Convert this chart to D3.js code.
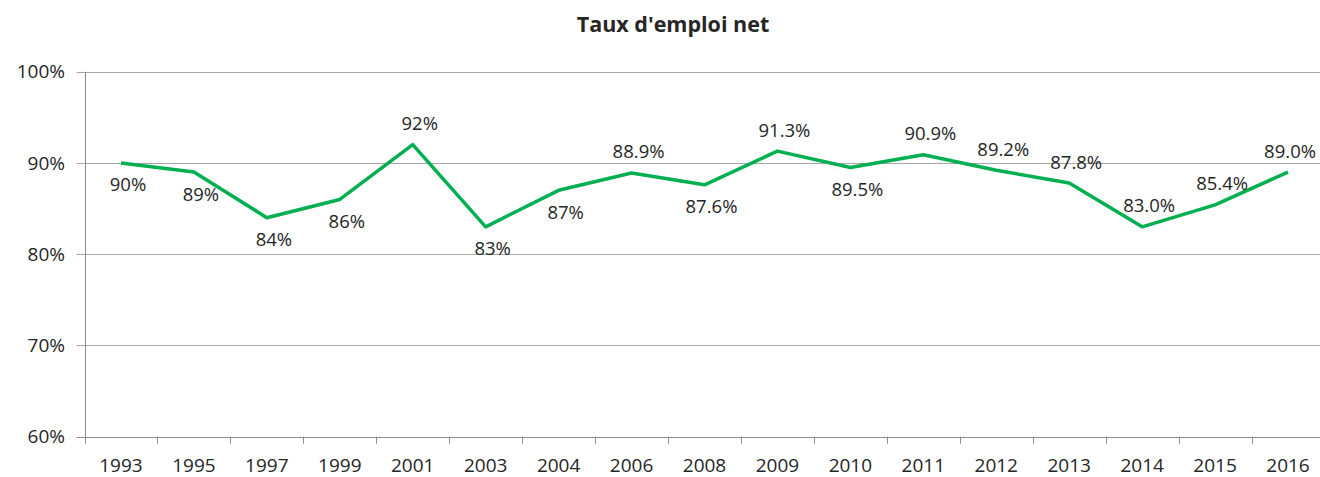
<!DOCTYPE html>
<html>
<head>
<meta charset="utf-8">
<script src="https://cdn.jsdelivr.net/npm/d3@7"></script>
<style>
  body { margin: 0; background: #fff; }
  text { font-family: "Open Sans", sans-serif; fill: #262626; }
</style>
</head>
<body>
<svg width="1320" height="477"></svg>
<script>
var years = ["1993", "1995", "1997", "1999", "2001", "2003", "2004", "2006", "2008",
             "2009", "2010", "2011", "2012", "2013", "2014", "2015", "2016"];
var rates = [0.90, 0.89, 0.84, 0.86, 0.92, 0.83, 0.87, 0.889, 0.876,
             0.913, 0.895, 0.909, 0.892, 0.878, 0.830, 0.854, 0.890];
var labels = ["90%", "89%", "84%", "86%", "92%", "83%", "87%", "88.9%", "87.6%",
              "91.3%", "89.5%", "90.9%", "89.2%", "87.8%", "83.0%", "85.4%", "89.0%"];
// where Excel put each data label
var labelSide = ["below", "below", "below", "below", "above", "below", "below", "above", "below",
                 "above", "below", "above", "above", "above", "above", "above", "above"];
var yTicks = [0.6, 0.7, 0.8, 0.9, 1.0];

var width = 1320,
    svg = d3.select("svg"),
    plotLeft = 84.5,
    plotRight = 1324.5,
    plotTop = 71.7,
    plotBottom = 436.7;

var x = d3.scaleBand()
    .domain(years)
    .range([plotLeft, plotRight]);

var y = d3.scaleLinear()
    .domain([0.6, 1])
    .range([plotBottom, plotTop]);

// title
svg.append("text")
    .attr("x", 673)
    .attr("y", 32)
    .attr("text-anchor", "middle")
    .style("font-weight", "bold")
    .style("font-size", "21.5px")
    .text("Taux d'emploi net");

// gridlines
svg.append("g")
    .selectAll("line")
    .data(yTicks)
    .enter().append("line")
    .attr("x1", plotLeft - 8)
    .attr("x2", plotRight)
    .attr("y1", function(d) { return Math.round(y(d)) + 0.5; })
    .attr("y2", function(d) { return Math.round(y(d)) + 0.5; })
    .attr("stroke", function(d) { return d === 0.6 ? "#8c8c8c" : "#a6a6a6"; })
    .attr("stroke-width", 1);

// y axis line
svg.append("line")
    .attr("x1", Math.round(plotLeft) + 0.5).attr("x2", Math.round(plotLeft) + 0.5)
    .attr("y1", y(1)).attr("y2", plotBottom)
    .attr("stroke", "#8c8c8c");

// y labels
svg.append("g")
    .selectAll("text")
    .data(yTicks)
    .enter().append("text")
    .attr("x", 65)
    .attr("y", function(d) { return y(d); })
    .attr("dy", "0.35em")
    .attr("text-anchor", "end")
    .style("font-size", "19px")
    .text(d3.format(".0%"));

// x ticks at band edges
var edges = years.map(function(d) { return x(d); }).concat([plotRight]);
svg.append("g")
    .selectAll("line")
    .data(edges)
    .enter().append("line")
    .attr("x1", function(d) { return Math.round(d) + 0.5; })
    .attr("x2", function(d) { return Math.round(d) + 0.5; })
    .attr("y1", plotBottom)
    .attr("y2", plotBottom + 7)
    .attr("stroke", "#8c8c8c");

// x labels
svg.append("g")
    .selectAll("text")
    .data(years)
    .enter().append("text")
    .attr("x", function(d) { return x(d) + x.bandwidth() / 2; })
    .attr("y", 472)
    .attr("text-anchor", "middle")
    .style("font-size", "19px")
    .text(function(d) { return d; });

var pts = years.map(function(d, i) {
    return { year: d, value: rates[i], label: labels[i], side: labelSide[i] };
});

var line = d3.line()
    .x(function(d) { return x(d.year) + x.bandwidth() / 2; })
    .y(function(d) { return y(d.value); });

svg.append("path")
    .datum(pts)
    .attr("d", line)
    .attr("fill", "none")
    .attr("stroke", "#00b050")
    .attr("stroke-width", 3.5)
    .attr("stroke-linejoin", "round");

// data labels, kept inside the picture at the right edge
svg.append("g")
    .selectAll("text")
    .data(pts)
    .enter().append("text")
    .attr("y", function(d) { return y(d.value) + (d.side === "above" ? -21 : 22); })
    .attr("dy", "0.35em")
    .attr("text-anchor", "middle")
    .style("font-size", "18.5px")
    .text(function(d) { return d.label; })
    .attr("x", function(d) {
        var half = this.getComputedTextLength() / 2;
        var cx = x(d.year) + x.bandwidth() / 2 + 7;
        return Math.min(cx, width - half - 4);
    });
</script>
</body>
</html>
